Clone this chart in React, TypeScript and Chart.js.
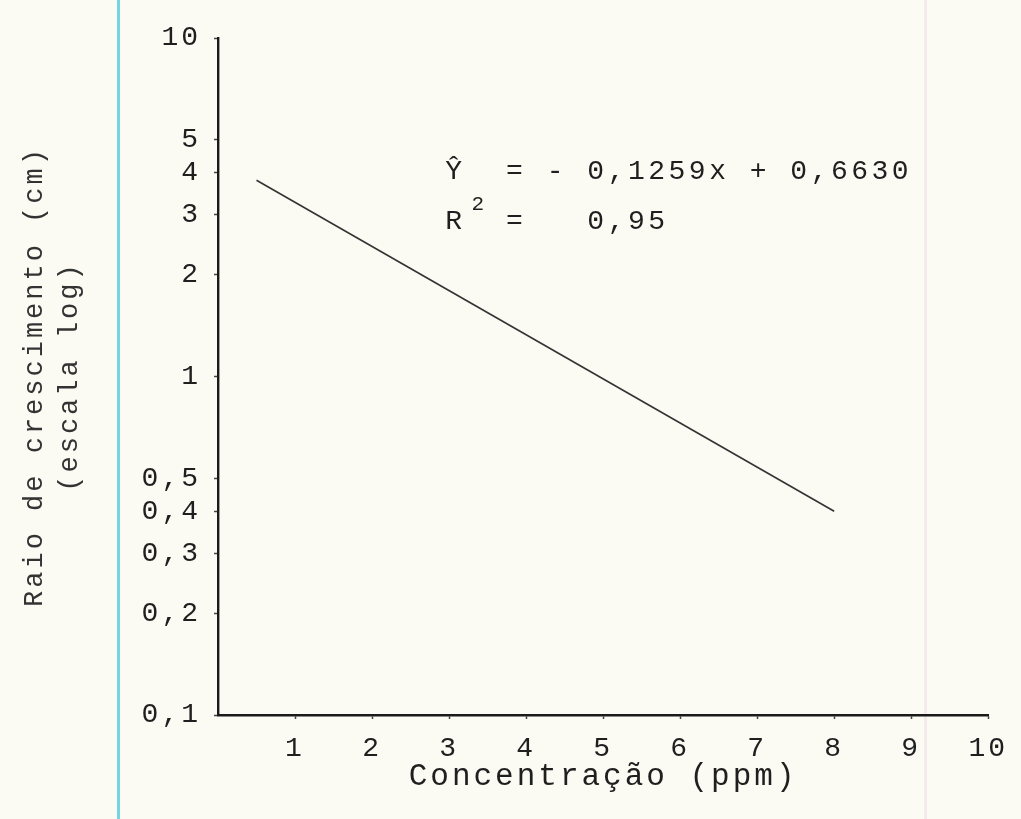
import { useEffect, useRef } from 'react';
import { Chart, registerables } from 'chart.js';

Chart.register(...registerables);

// ---- data ----
const lineX = [0.5, 8];
const lineY = [3.8, 0.4];
const yTickValues = [0.1, 0.2, 0.3, 0.4, 0.5, 1, 2, 3, 4, 5, 10];
const yTickLabels = ['0,1', '0,2', '0,3', '0,4', '0,5', '1', '2', '3', '4', '5', '10'];
const xTickValues = [1, 2, 3, 4, 5, 6, 7, 8, 9, 10];
const xTitle = 'Concentração (ppm)';
const yTitle = ['Raio de crescimento (cm)', '(escala log)'];
const equationText = 'Ŷ  = - 0,1259x + 0,6630';
const r2Text = 'R  =   0,95';
const r2Sup = '2';
const annotationX = 2.95;
const equationY = 4.02;
const r2Y = 2.86;

const FONT = "'Liberation Mono', 'Courier New', monospace";
const INK = '#1f1f1f';
const SPACING = '3px';
const EQ_SPACING = '3.5px';

const spacingPlugin = {
  id: 'typewriterSpacing',
  beforeInit(chart: any) {
    chart.ctx.letterSpacing = SPACING;
  },
  beforeUpdate(chart: any) {
    chart.ctx.letterSpacing = SPACING;
  },
  beforeDraw(chart: any) {
    chart.ctx.letterSpacing = SPACING;
  },
};

const annotationPlugin = {
  id: 'equationText',
  afterDatasetsDraw(chart: any) {
    const { ctx, scales } = chart;
    const xs = scales.x;
    const ys = scales.y;
    const x0 = xs.getPixelForValue(annotationX);
    const yEq = ys.getPixelForValue(equationY);
    const yR = ys.getPixelForValue(r2Y);
    ctx.save();
    ctx.letterSpacing = EQ_SPACING;
    ctx.fillStyle = INK;
    ctx.textAlign = 'left';
    ctx.textBaseline = 'middle';
    ctx.font = `28px ${FONT}`;
    ctx.fillText(equationText, x0, yEq);
    ctx.fillText(r2Text, x0, yR);
    const pitch = ctx.measureText('0').width;
    ctx.font = `21px ${FONT}`;
    ctx.fillText(r2Sup, x0 + pitch * 1.3, yR - 18);
    ctx.restore();
  },
};

export default function App() {
  const canvasRef = useRef<HTMLCanvasElement | null>(null);

  useEffect(() => {
    if (!canvasRef.current) return;
    const chart = new Chart(canvasRef.current, {
      type: 'line',
      data: {
        datasets: [
          {
            data: lineX.map((x, i) => ({ x, y: lineY[i] })),
            borderColor: '#333333',
            borderWidth: 1.6,
            pointRadius: 0,
            fill: false,
            tension: 0,
          },
        ],
      },
      options: {
        animation: false,
        responsive: false,
        events: [],
        layout: { padding: { top: 38, right: 31, bottom: 0, left: 0 } },
        plugins: {
          legend: { display: false },
          tooltip: { enabled: false },
          title: { display: false },
        },
        scales: {
          x: {
            type: 'linear',
            min: 0,
            max: 10,
            afterBuildTicks: (scale: any) => {
              scale.ticks = xTickValues.map((v) => ({ value: v }));
            },
            afterFit: (scale: any) => {
              scale.height = 104;
            },
            ticks: {
              color: INK,
              font: { family: FONT, size: 28, lineHeight: 1.2 },
              padding: 13,
              maxRotation: 0,
              autoSkip: false,
              callback: (v: any) => String(v),
            },
            grid: {
              display: true,
              drawOnChartArea: false,
              drawTicks: true,
              tickLength: 4,
              tickColor: '#444',
              tickWidth: 1.5,
            },
            border: { display: true, color: '#1a1a1a', width: 2.4 },
            title: {
              display: true,
              text: xTitle,
              color: INK,
              font: { family: FONT, size: 31, lineHeight: 1.2 },
              padding: { top: 0, bottom: 24 },
            },
          },
          y: {
            type: 'logarithmic',
            min: 0.1,
            max: 10,
            afterBuildTicks: (scale: any) => {
              scale.ticks = yTickValues.map((v) => ({ value: v }));
            },
            afterFit: (scale: any) => {
              scale.width = 218;
            },
            ticks: {
              color: INK,
              font: { family: FONT, size: 28, lineHeight: 1.2 },
              padding: 13,
              autoSkip: false,
              callback: (v: any) => {
                const i = yTickValues.indexOf(Number(v));
                return i >= 0 ? yTickLabels[i] : '';
              },
            },
            grid: {
              display: true,
              drawOnChartArea: false,
              drawTicks: true,
              tickLength: 4,
              tickColor: '#444',
              tickWidth: 1.5,
            },
            border: { display: true, color: '#1a1a1a', width: 2.4 },
            title: {
              display: true,
              text: yTitle,
              color: '#333333',
              font: { family: FONT, size: 27, lineHeight: 1.3 },
              padding: { top: 17, bottom: 0 },
            },
          },
        },
      },
      plugins: [spacingPlugin, annotationPlugin],
    } as any);
    return () => chart.destroy();
  }, []);

  return (
    <div
      style={{
        position: 'fixed',
        left: 0,
        top: 0,
        width: 1021,
        height: 819,
        background: '#fbfbf4',
        overflow: 'hidden',
      }}
    >
      <div
        style={{
          position: 'absolute',
          left: 117,
          top: 0,
          width: 3,
          height: 819,
          background: '#72d7e2',
        }}
      />
      <div
        style={{
          position: 'absolute',
          left: 924,
          top: 0,
          width: 3,
          height: 819,
          background: '#f5eaec',
        }}
      />
      <canvas
        ref={canvasRef}
        width={1021}
        height={819}
        style={{ position: 'absolute', left: 0, top: 0, display: 'block' }}
      />
    </div>
  );
}
